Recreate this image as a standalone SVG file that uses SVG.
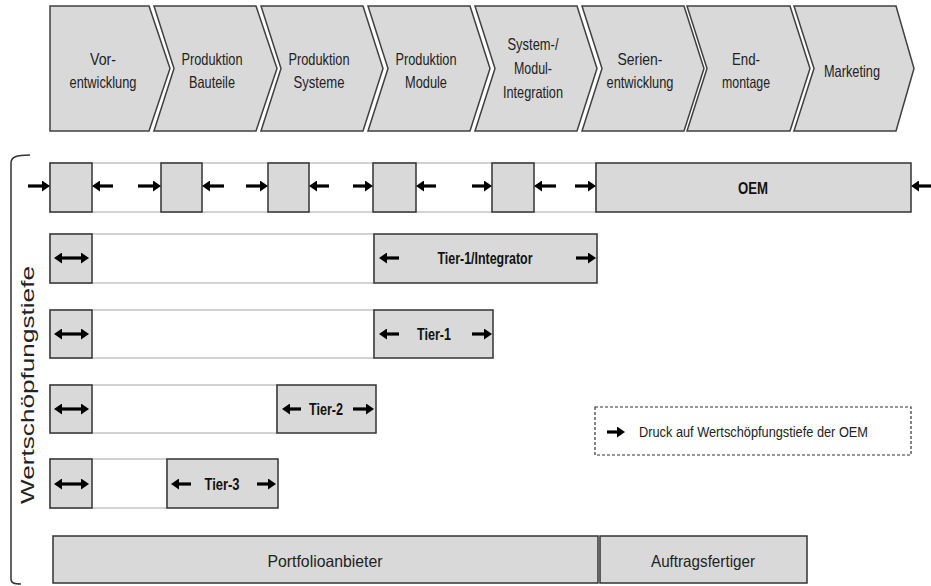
<svg xmlns="http://www.w3.org/2000/svg" width="931" height="586" viewBox="0 0 931 586">
<style>
.chev{fill:#d9d9d9;stroke:#404040;stroke-width:1.5}
.box{fill:#d9d9d9;stroke:#333;stroke-width:1.5}
.bg{fill:#fff;stroke:#a6a6a6;stroke-width:1}
.t{font-family:"Liberation Sans Narrow","Liberation Sans",Arial,sans-serif;font-size:16.5px;fill:#222;text-anchor:middle}
.b{font-family:"Liberation Sans Narrow","Liberation Sans",Arial,sans-serif;font-size:16px;font-weight:bold;fill:#111;text-anchor:middle}
.a{stroke:#000;stroke-width:3.2;fill:none;marker-end:url(#ah)}
.d{stroke:#000;stroke-width:3.2;fill:none;marker-start:url(#ah);marker-end:url(#ah)}
</style>
<defs>
<marker id="ah" markerUnits="userSpaceOnUse" markerWidth="9" markerHeight="11" refX="3" refY="5.5" orient="auto-start-reverse" viewBox="0 0 9 11">
<path d="M0,0 L8,5.5 L0,11 z" fill="#000"/>
</marker>
</defs>
<rect width="931" height="586" fill="#fff"/>

<g id="chevrons">
<g id="c1"><polygon class="chev" points="50,6 149,6 170,68.5 149,131 50,131"/><text class="t" x="103" y="65" textLength="26" lengthAdjust="spacingAndGlyphs">Vor-</text><text class="t" x="103" y="88" textLength="67" lengthAdjust="spacingAndGlyphs">entwicklung</text></g>
<g id="c2"><polygon class="chev" points="154,6 256,6 277,68.5 256,131 154,131 174,68.5"/><text class="t" x="212" y="65" textLength="61" lengthAdjust="spacingAndGlyphs">Produktion</text><text class="t" x="212" y="88" textLength="46" lengthAdjust="spacingAndGlyphs">Bauteile</text></g>
<g id="c3"><polygon class="chev" points="261,6 363,6 383,68.5 363,131 261,131 281,68.5"/><text class="t" x="319" y="65" textLength="61" lengthAdjust="spacingAndGlyphs">Produktion</text><text class="t" x="319" y="88" textLength="51" lengthAdjust="spacingAndGlyphs">Systeme</text></g>
<g id="c4"><polygon class="chev" points="368,6 470,6 490,68.5 470,131 368,131 388,68.5"/><text class="t" x="426" y="65" textLength="61" lengthAdjust="spacingAndGlyphs">Produktion</text><text class="t" x="426" y="88" textLength="42" lengthAdjust="spacingAndGlyphs">Module</text></g>
<g id="c5"><polygon class="chev" points="475,6 577,6 597,68.5 577,131 475,131 495,68.5"/><text class="t" x="533" y="50" textLength="51" lengthAdjust="spacingAndGlyphs">System-/</text><text class="t" x="533" y="74" textLength="38" lengthAdjust="spacingAndGlyphs">Modul-</text><text class="t" x="533" y="98" textLength="60" lengthAdjust="spacingAndGlyphs">Integration</text></g>
<g id="c6"><polygon class="chev" points="582,6 684,6 704,68.5 684,131 582,131 602,68.5"/><text class="t" x="640" y="65" textLength="45" lengthAdjust="spacingAndGlyphs">Serien-</text><text class="t" x="640" y="88" textLength="67" lengthAdjust="spacingAndGlyphs">entwicklung</text></g>
<g id="c7"><polygon class="chev" points="687,6 790,6 810,68.5 790,131 687,131 707,68.5"/><text class="t" x="746" y="65" textLength="28" lengthAdjust="spacingAndGlyphs">End-</text><text class="t" x="746" y="88" textLength="48" lengthAdjust="spacingAndGlyphs">montage</text></g>
<g id="c8"><polygon class="chev" points="794,6 896,6 914,68.5 896,131 794,131 814,68.5"/><text class="t" x="852" y="77" textLength="56" lengthAdjust="spacingAndGlyphs">Marketing</text></g>
</g>

<g id="bracket">
<path d="M30,155 C16,155 11,157 11,163 V579 C11,583 14,584 21,584" fill="none" stroke="#333" stroke-width="1.5"/>
<text font-family="Liberation Sans Narrow,Liberation Sans,Arial,sans-serif" font-size="18" fill="#222" text-anchor="middle" transform="translate(34,385) rotate(-90)" textLength="238" lengthAdjust="spacingAndGlyphs">Wertschöpfungstiefe</text>
</g>

<g id="row-oem">
<rect class="bg" x="50" y="163" width="546" height="49"/>
<rect class="box" x="50" y="163" width="42" height="49"/>
<rect class="box" x="161" y="163" width="41" height="49"/>
<rect class="box" x="268" y="163" width="41" height="49"/>
<rect class="box" x="373" y="163" width="43" height="49"/>
<rect class="box" x="492" y="163" width="42" height="49"/>
<g id="oem"><rect class="box" x="596" y="163" width="315" height="49"/><text class="b" x="753" y="194" textLength="30" lengthAdjust="spacingAndGlyphs">OEM</text></g>
</g>

<g id="row-tier1int">
<rect class="bg" x="50" y="234" width="324" height="49"/>
<rect class="box" x="50" y="234" width="42" height="49"/>
<g id="tier1int"><rect class="box" x="374" y="234" width="223" height="49"/><text class="b" x="485" y="264" textLength="95" lengthAdjust="spacingAndGlyphs">Tier-1/Integrator</text></g>
</g>

<g id="row-tier1">
<rect class="bg" x="50" y="310" width="324" height="48"/>
<rect class="box" x="50" y="310" width="42" height="48"/>
<g id="tier1"><rect class="box" x="374" y="310" width="119" height="48"/><text class="b" x="434" y="340" textLength="34" lengthAdjust="spacingAndGlyphs">Tier-1</text></g>
</g>

<g id="row-tier2">
<rect class="bg" x="50" y="385" width="227" height="48"/>
<rect class="box" x="50" y="385" width="42" height="48"/>
<g id="tier2"><rect class="box" x="277" y="385" width="99" height="48"/><text class="b" x="326" y="415" textLength="34" lengthAdjust="spacingAndGlyphs">Tier-2</text></g>
</g>

<g id="row-tier3">
<rect class="bg" x="50" y="459" width="117" height="49"/>
<rect class="box" x="50" y="459" width="42" height="49"/>
<g id="tier3"><rect class="box" x="167" y="459" width="111" height="49"/><text class="b" x="222" y="490" textLength="35" lengthAdjust="spacingAndGlyphs">Tier-3</text></g>
</g>

<g id="portfolio"><rect class="box" x="53" y="536" width="545" height="47"/><text class="t" x="325" y="567" font-size="18" textLength="115" lengthAdjust="spacingAndGlyphs">Portfolioanbieter</text></g>
<g id="auftrag"><rect class="box" x="600" y="536" width="207" height="47"/><text class="t" x="703" y="567" font-size="18" textLength="104" lengthAdjust="spacingAndGlyphs">Auftragsfertiger</text></g>

<g id="legend">
<rect x="595" y="407" width="316" height="48" fill="none" stroke="#333" stroke-width="1.2" stroke-dasharray="3,2"/>
<line class="a" x1="607" y1="432" x2="620" y2="432"/>
<text x="639" y="437" font-family="Liberation Sans Narrow,Liberation Sans,Arial,sans-serif" font-size="14" fill="#222" textLength="229" lengthAdjust="spacingAndGlyphs">Druck auf Wertschöpfungstiefe der OEM</text>
</g>

<g id="connectors">
<line class="a" x1="28" y1="186" x2="45" y2="186"/>
<line class="a" x1="113" y1="186" x2="97" y2="186"/>
<line class="a" x1="138" y1="186" x2="156" y2="186"/>
<line class="a" x1="224" y1="186" x2="207" y2="186"/>
<line class="a" x1="246" y1="186" x2="263" y2="186"/>
<line class="a" x1="329" y1="186" x2="314" y2="186"/>
<line class="a" x1="353" y1="186" x2="368" y2="186"/>
<line class="a" x1="436" y1="186" x2="421" y2="186"/>
<line class="a" x1="472" y1="186" x2="487" y2="186"/>
<line class="a" x1="556" y1="186" x2="539" y2="186"/>
<line class="a" x1="575" y1="186" x2="591" y2="186"/>
<line class="a" x1="931" y1="186" x2="916" y2="186"/>

<line class="d" x1="59" y1="258" x2="84" y2="258"/>
<line class="a" x1="399" y1="258" x2="384" y2="258"/>
<line class="a" x1="576" y1="258" x2="591" y2="258"/>

<line class="d" x1="59" y1="334" x2="84" y2="334"/>
<line class="a" x1="399" y1="334" x2="384" y2="334"/>
<line class="a" x1="472" y1="334" x2="487" y2="334"/>

<line class="d" x1="59" y1="409" x2="84" y2="409"/>
<line class="a" x1="301" y1="409" x2="287" y2="409"/>
<line class="a" x1="353" y1="409" x2="369" y2="409"/>

<line class="d" x1="59" y1="484" x2="84" y2="484"/>
<line class="a" x1="191" y1="484" x2="176" y2="484"/>
<line class="a" x1="257" y1="484" x2="271" y2="484"/>
</g>
</svg>
